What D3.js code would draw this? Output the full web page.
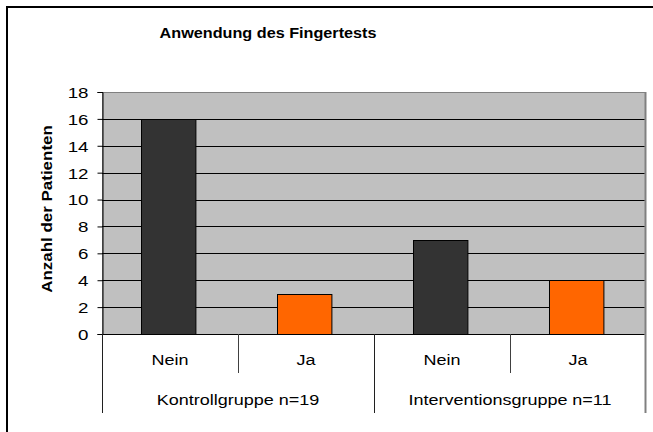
<!DOCTYPE html>
<html>
<head>
<meta charset="utf-8">
<script src="https://cdn.jsdelivr.net/npm/d3@7"></script>
<style>
  body { margin: 0; background: #fff; }
  text { font-family: Arial, "Liberation Sans", sans-serif; fill: #000; }
</style>
</head>
<body>
<script>
var groups = ["Kontrollgruppe n=19", "Interventionsgruppe n=11"];
var answers = ["Nein", "Ja"];
var kontrolle = [16, 3];
var intervention = [7, 4];
var yTicks = [0, 2, 4, 6, 8, 10, 12, 14, 16, 18];
var title = "Anwendung des Fingertests";
var yTitle = "Anzahl der Patienten";

var data = [];
groups.forEach(function(g, gi){
	var vals = gi === 0 ? kontrolle : intervention;
	answers.forEach(function(a, ai){
		data.push({group: g, answer: a, value: vals[ai]});
	});
});

var w = 653, h = 432;
var plotLeft = 102, plotRight = 646, plotTop = 92, plotBottom = 334;
var colors = {"Nein": "#333333", "Ja": "#FF6600"};

var svg = d3.select("body").append("svg")
	.attr("width", w)
	.attr("height", h);

// outer frame (only top and left visible)
svg.append("rect")
	.attr("x", 7).attr("y", 7)
	.attr("width", 700).attr("height", 500)
	.attr("fill", "none")
	.attr("stroke", "#000")
	.attr("stroke-width", 2);

var yScale = d3.scaleLinear().domain([0, 18]).range([plotBottom, plotTop]);
var xGroup = d3.scaleBand().domain(groups).range([plotLeft, plotRight]).padding(0);
var xAnswer = d3.scaleBand().domain(answers).range([0, xGroup.bandwidth()])
	.paddingInner(0.6).paddingOuter(0.3);
var xSlot = d3.scaleBand().domain(answers).range([0, xGroup.bandwidth()]).padding(0);

// plot background
svg.append("rect")
	.attr("x", plotLeft + 0.5).attr("y", plotTop + 0.5)
	.attr("width", plotRight - plotLeft - 1).attr("height", plotBottom - plotTop)
	.attr("fill", "#C0C0C0")
	.attr("stroke", "#808080");
svg.append("line")
	.attr("x1", plotRight - 0.5).attr("x2", plotRight - 0.5)
	.attr("y1", plotTop).attr("y2", plotBottom)
	.attr("stroke", "#808080")
	.attr("stroke-width", 2);

// gridlines
svg.selectAll(".grid")
	.data(yTicks.filter(function(d){ return d > 0 && d < 18; }))
	.enter()
	.append("line")
	.attr("class", "grid")
	.attr("x1", plotLeft).attr("x2", plotRight - 1.5)
	.attr("y1", function(d){ return Math.round(yScale(d)) + 0.5; })
	.attr("y2", function(d){ return Math.round(yScale(d)) + 0.5; })
	.attr("stroke", "#000");

// bars
svg.selectAll(".bar")
	.data(data)
	.enter()
	.append("rect")
	.attr("class", "bar")
	.attr("x", function(d){ return Math.round(xGroup(d.group) + xAnswer(d.answer)) - 1.5; })
	.attr("width", xAnswer.bandwidth())
	.attr("y", function(d){ return Math.round(yScale(d.value)) + 0.5; })
	.attr("height", function(d){ return Math.round(yScale(0)) - Math.round(yScale(d.value)); })
	.attr("fill", function(d){ return colors[d.answer]; })
	.attr("stroke", "#000");

// y axis
var yAxis = d3.axisLeft(yScale).tickValues(yTicks).tickSize(5).tickPadding(9);
var gy = svg.append("g")
	.attr("transform", "translate(" + (plotLeft + 0.5) + ",0)")
	.call(yAxis);
gy.select(".domain").attr("stroke", "#000");
gy.selectAll(".tick line").attr("stroke", "#000");
gy.selectAll(".tick text")
	.style("font-size", "15px")
	.style("font-family", "Arial, 'Liberation Sans', sans-serif")
	.attr("fill", "#000")
	.attr("transform", "scale(1.25,1)")
	.attr("x", -14 / 1.25)
	.attr("dy", "0.36em");

// x axis line
svg.append("line")
	.attr("x1", plotLeft).attr("x2", plotRight - 1.5)
	.attr("y1", plotBottom + 0.5).attr("y2", plotBottom + 0.5)
	.attr("stroke", "#000");

// category dividers
var inner = [];
groups.forEach(function(g){ inner.push(xGroup(g) + xSlot("Ja")); });
svg.selectAll(".divInner")
	.data(inner)
	.enter()
	.append("line")
	.attr("x1", function(d){ return Math.round(d) + 0.5; })
	.attr("x2", function(d){ return Math.round(d) + 0.5; })
	.attr("y1", plotBottom).attr("y2", 373)
	.attr("stroke", "#404040");

var outer = groups.map(function(g){ return xGroup(g); });
svg.selectAll(".divOuter")
	.data(outer)
	.enter()
	.append("line")
	.attr("x1", function(d){ return Math.round(d) + 0.5; })
	.attr("x2", function(d){ return Math.round(d) + 0.5; })
	.attr("y1", plotBottom).attr("y2", 413)
	.attr("stroke", "#202020");
svg.append("line")
	.attr("x1", plotRight - 0.5).attr("x2", plotRight - 0.5)
	.attr("y1", plotBottom).attr("y2", 413)
	.attr("stroke", "#808080")
	.attr("stroke-width", 2);

function stretchedText(x, y, txt, size, weight, stretch, rotate){
	var g = svg.append("g")
		.attr("transform", "translate(" + x + "," + y + ")" + (rotate ? " rotate(-90)" : "") + " scale(" + stretch + ",1)");
	g.append("text")
		.attr("text-anchor", "middle")
		.style("font-size", size + "px")
		.style("font-weight", weight)
		.text(txt);
}

// answer labels
data.forEach(function(d){
	stretchedText(xGroup(d.group) + xSlot(d.answer) + xSlot.bandwidth() / 2, 365, d.answer, 15, "normal", 1.2);
});

// group labels
groups.forEach(function(g){
	stretchedText(xGroup(g) + xGroup.bandwidth() / 2, 405, g, 15, "normal", 1.2);
});

// title
stretchedText(268, 38, title, 15, "bold", 1.08);

// y title
stretchedText(52, 209, yTitle, 15, "bold", 1.13, true);
</script>
</body>
</html>
